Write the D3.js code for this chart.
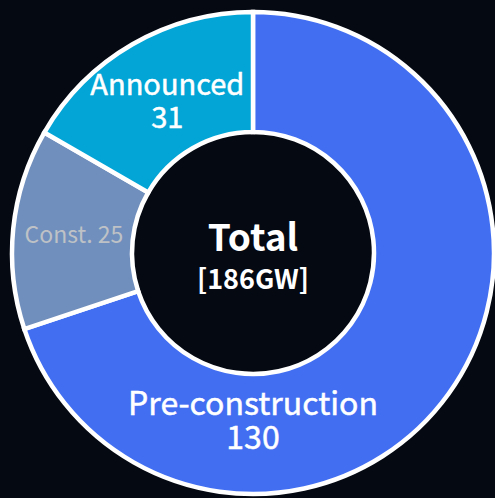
<!DOCTYPE html>
<html>
<head>
<meta charset="utf-8">
<script src="https://cdn.jsdelivr.net/npm/d3@7"></script>
<style>
  html, body { margin: 0; padding: 0; background: #050912; }
  svg { display: block; font-family: "Noto Sans CJK SC", "Open Sans", sans-serif; }
</style>
</head>
<body>
<svg id="chart" width="495" height="498"></svg>
<script>
// pipeline stages (GW)
var stages = ["Pre-construction", "Const.", "Announced"];
var capacity = [130, 25, 31];
var stageColors = ["#426ff2", "#718fbc", "#02a5d6"];

var width = 495, height = 498,
    cx = 253, cy = 253,
    outerR = 241, innerR = 121;

var svg = d3.select('#chart');

var slices = stages.map(function(s, i) { return {stage: s, value: capacity[i], color: stageColors[i]}; });
var total = d3.sum(capacity);

var pie = d3.pie()
    .sort(null)
    .value(function(d) { return d.value; });

var arc = d3.arc()
    .innerRadius(innerR)
    .outerRadius(outerR);

var g = svg.append('g')
    .attr('transform', `translate(${cx}, ${cy})`);

var arcs = pie(slices);

g.selectAll('path')
    .data(arcs)
    .enter()
    .append('path')
    .attr('d', arc)
    .style('fill', function(d) { return d.data.color; })
    .style('stroke', '#ffffff')
    .style('stroke-width', 4.5)
    .style('stroke-linejoin', 'miter');

// label placement: angle (null = slice middle), radius from centre, line gap
var labelSpec = {
    "Pre-construction": {angle: Math.PI, r: 162, size: 32, gap: 34, color: '#ffffff', two: true},
    "Const.": {angle: null, r: 180, size: 23, gap: 0, color: '#bec2c6', two: false},
    "Announced": {angle: -0.496, r: 180, size: 29, gap: 33, color: '#ffffff', two: true}
};

var labels = g.selectAll('.label')
    .data(arcs)
    .enter()
    .append('text')
    .attr('class', 'label')
    .attr('text-anchor', 'middle')
    .style('fill', function(d) { return labelSpec[d.data.stage].color; })
    .style('stroke', function(d) { return labelSpec[d.data.stage].two ? labelSpec[d.data.stage].color : 'none'; })
    .style('stroke-width', 0.5)
    .style('font-size', function(d) { return labelSpec[d.data.stage].size + 'px'; })
    .attr('transform', function(d) {
        var spec = labelSpec[d.data.stage];
        var a = spec.angle === null ? (d.startAngle + d.endAngle) / 2 : spec.angle;
        return `translate(${spec.r * Math.sin(a)}, ${-spec.r * Math.cos(a)})`;
    });

labels.each(function(d) {
    var spec = labelSpec[d.data.stage];
    var t = d3.select(this);
    if (spec.two) {
        t.append('tspan').attr('x', 0).attr('y', 0).text(d.data.stage);
        t.append('tspan').attr('x', 0).attr('y', spec.gap).text(d.data.value);
    } else {
        t.append('tspan').attr('x', 0).attr('y', spec.size * 0.35).text(d.data.stage + ' ' + d.data.value);
    }
});

// centre
g.append('text')
    .attr('text-anchor', 'middle')
    .attr('y', -2)
    .style('fill', '#ffffff')
    .style('font-weight', 'bold')
    .style('font-size', '37px')
    .text('Total');

g.append('text')
    .attr('text-anchor', 'middle')
    .attr('y', 36)
    .style('fill', '#ffffff')
    .style('font-weight', 'bold')
    .style('font-size', '27px')
    .text(`[${total}GW]`);
</script>
</body>
</html>
